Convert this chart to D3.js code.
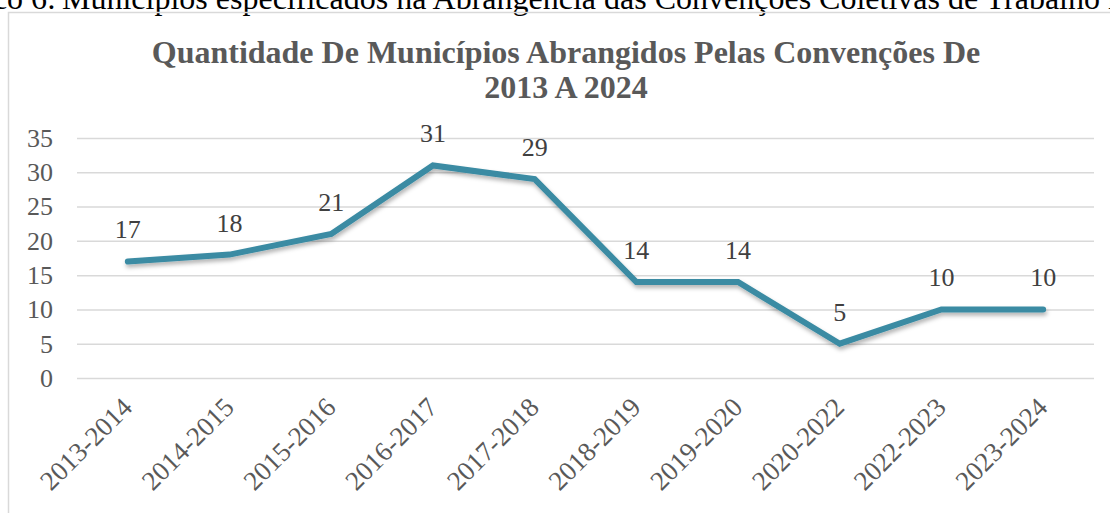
<!DOCTYPE html>
<html>
<head>
<meta charset="utf-8">
<script src="https://cdn.jsdelivr.net/npm/d3@7"></script>
<style>
  body { margin: 0; background: #fff; }
  svg text { font-family: "Liberation Serif", "DejaVu Serif", "Times New Roman", serif !important; }
</style>
</head>
<body>
<svg></svg>
<script>
const periods = ["2013-2014", "2014-2015", "2015-2016", "2016-2017", "2017-2018",
  "2018-2019", "2019-2020", "2020-2022", "2022-2023", "2023-2024"];
const municipios = [17, 18, 21, 31, 29, 14, 14, 5, 10, 10];
const yTicks = [0, 5, 10, 15, 20, 25, 30, 35];

const width = 1110;
const height = 513;

const svg = d3.select("svg").attr("width", width).attr("height", height);

const defs = svg.append("defs");
const shadow = defs.append("filter").attr("id", "shadow")
  .attr("x", "-5%").attr("y", "-20%").attr("width", "110%").attr("height", "140%");
shadow.append("feDropShadow")
  .attr("dx", 1).attr("dy", 3).attr("stdDeviation", 2)
  .attr("flood-color", "#000").attr("flood-opacity", 0.3);

// caption cut off at the top of the page
svg.append("text")
  .attr("x", 56).attr("y", 9)
  .attr("text-anchor", "end")
  .attr("font-size", 32).attr("fill", "#000")
  .text("Gráfico 6:");
svg.append("text")
  .attr("x", 62).attr("y", 9)
  .attr("font-size", 32).attr("fill", "#000")
  .text("Municípios especificados na Abrangência das Convenções Coletivas de Trabalho no período");

// chart frame
svg.append("rect")
  .attr("x", 8.5).attr("y", 12.5)
  .attr("width", 1120).attr("height", 520)
  .attr("fill", "none").attr("stroke", "#d9d9d9").attr("stroke-width", 1.5);

const margin = { left: 77, right: 16, top: 138, bottom: 135 };
const graphWidth = width - margin.left - margin.right;
const graphHeight = height - margin.top - margin.bottom;

const g = svg.append("g").attr("transform", `translate(${margin.left}, ${margin.top})`);

const xScale = d3.scaleBand().domain(periods).range([0, graphWidth]);
const yScale = d3.scaleLinear().domain([0, 35]).range([graphHeight, 0]);

const yAxis = d3.axisLeft(yScale).tickValues(yTicks).tickSize(-graphWidth).tickPadding(24);
const yAxisG = g.append("g").call(yAxis);
yAxisG.select(".domain").remove();
yAxisG.selectAll(".tick line").attr("stroke", "#d9d9d9").attr("stroke-width", 1.5);
yAxisG.selectAll(".tick text")
  .attr("font-size", 26).attr("fill", "#595959");

const xAxis = d3.axisBottom(xScale).tickSize(0).tickPadding(0);
const xAxisG = g.append("g").attr("transform", `translate(0, ${graphHeight})`).call(xAxis);
xAxisG.select(".domain").remove();
xAxisG.selectAll(".tick text")
  .attr("font-size", 27).attr("fill", "#595959")
  .attr("text-anchor", "end")
  .attr("dy", 0)
  .attr("transform", "translate(6, 31) rotate(-45)");

const cx = (d, i) => xScale(periods[i]) + xScale.bandwidth() / 2;

const line = d3.line().x(cx).y((d) => yScale(d));
g.append("path")
  .datum(municipios)
  .attr("d", line)
  .attr("fill", "none")
  .attr("stroke", "#3a8ba3")
  .attr("stroke-width", 6)
  .attr("stroke-linejoin", "miter")
  .attr("stroke-linecap", "round")
  .attr("filter", "url(#shadow)");

g.selectAll(".value")
  .data(municipios)
  .enter()
  .append("text")
  .attr("class", "value")
  .attr("x", cx)
  .attr("y", (d) => yScale(d) - 23)
  .attr("text-anchor", "middle")
  .attr("font-size", 26)
  .attr("fill", "#404040")
  .text((d) => d);

const title = svg.append("text")
  .attr("text-anchor", "middle")
  .attr("font-size", 32).attr("font-weight", "bold").attr("fill", "#595959");
title.append("tspan").attr("x", 566).attr("y", 63)
  .text("Quantidade De Municípios Abrangidos Pelas Convenções De");
title.append("tspan").attr("x", 566).attr("y", 98).text("2013 A 2024");
</script>
</body>
</html>
